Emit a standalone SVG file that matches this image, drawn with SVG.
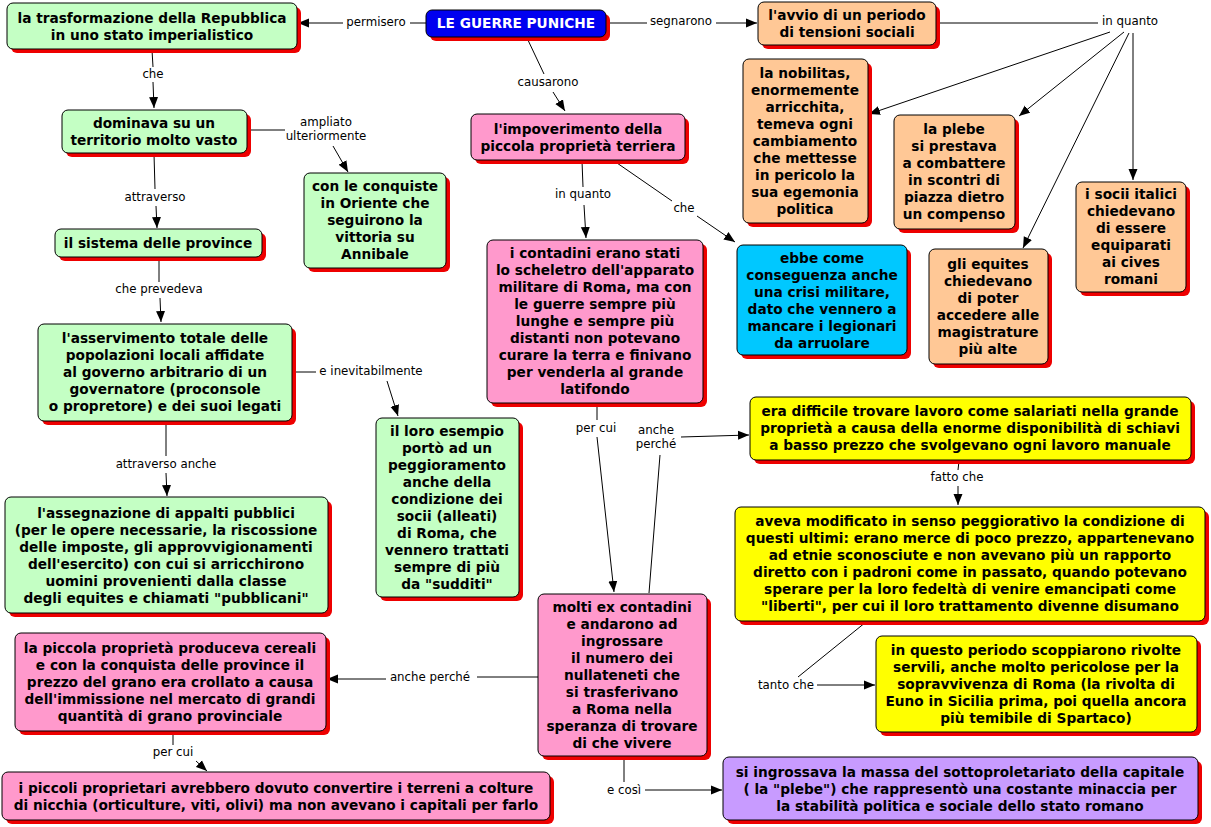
<svg xmlns="http://www.w3.org/2000/svg" width="1211" height="827" viewBox="0 0 1211 827">
<style>
.sh{fill:#ee0000}
.b{stroke:#000;stroke-width:1}
.g{fill:#c4ffc4}.p{fill:#ff99cc}.o{fill:#ffc896}.c{fill:#00c8ff}.y{fill:#ffff00}.v{fill:#c89bff}.bl{fill:#0000f0}
.t{font-family:"DejaVu Sans",Verdana,sans-serif;font-weight:bold;font-size:13.7px;text-anchor:middle;fill:#000}
.tw{fill:#fff}
.l{font-family:"DejaVu Sans",Verdana,sans-serif;font-size:11.8px;text-anchor:middle;fill:#000}
.ln{stroke:#000;stroke-width:1;fill:none}
.a{marker-end:url(#ah)}
</style>
<defs>
<marker id="ah" markerUnits="userSpaceOnUse" markerWidth="12" markerHeight="10" refX="11" refY="4.5" orient="auto" viewBox="0 0 12 9">
<path d="M0,0 L11,4.5 L0,9 z" fill="#000"/>
</marker>
</defs>
<rect width="1211" height="827" fill="#fff"/>

<g id="connectors">
<line class="ln" x1="426" y1="23" x2="410" y2="23"/><line class="ln a" x1="343" y1="23" x2="298" y2="23"/>
<line class="ln" x1="606" y1="23" x2="647" y2="23"/><line class="ln a" x1="716" y1="23" x2="757" y2="23"/>
<line class="ln" x1="527" y1="38" x2="544" y2="74"/><line class="ln a" x1="553" y1="92" x2="565" y2="111"/>
<line class="ln" x1="152" y1="50" x2="153" y2="67"/><line class="ln a" x1="153" y1="82" x2="154" y2="108"/>
<line class="ln" x1="248" y1="130" x2="285" y2="130"/><line class="ln a" x1="333" y1="146" x2="348" y2="172"/>
<line class="ln" x1="154" y1="154" x2="155" y2="189"/><line class="ln a" x1="156" y1="206" x2="157" y2="228"/>
<line class="ln" x1="159" y1="259" x2="159" y2="282"/><line class="ln a" x1="160" y1="298" x2="161" y2="322"/>
<line class="ln" x1="292" y1="372" x2="316" y2="372"/><line class="ln a" x1="387" y1="381" x2="398" y2="416"/>
<line class="ln" x1="166" y1="422" x2="166" y2="456"/><line class="ln a" x1="166" y1="473" x2="167" y2="496"/>
<line class="ln" x1="582" y1="161" x2="583" y2="187"/><line class="ln a" x1="584" y1="205" x2="586" y2="238"/>
<line class="ln" x1="617" y1="163" x2="672" y2="201"/><line class="ln a" x1="697" y1="216" x2="735" y2="242"/>
<line class="ln" x1="936" y1="23" x2="1098" y2="23"/>
<line class="ln a" x1="1110" y1="32" x2="869" y2="114"/>
<line class="ln a" x1="1124" y1="32" x2="1019" y2="116"/>
<line class="ln a" x1="1129" y1="33" x2="1023" y2="248"/>
<line class="ln a" x1="1133" y1="33" x2="1133" y2="180"/>
<line class="ln" x1="597" y1="404" x2="597" y2="420"/><line class="ln a" x1="597" y1="437" x2="614" y2="592"/>
<line class="ln" x1="649" y1="593" x2="660" y2="455"/><line class="ln a" x1="681" y1="437" x2="749" y2="435"/>
<line class="ln" x1="959" y1="461" x2="958" y2="470"/><line class="ln a" x1="958" y1="486" x2="958" y2="505"/>
<line class="ln" x1="866" y1="622" x2="798" y2="677"/><line class="ln a" x1="817" y1="685" x2="875" y2="685"/>
<line class="ln" x1="538" y1="677" x2="477" y2="677"/><line class="ln a" x1="386" y1="679" x2="327" y2="679"/>
<line class="ln" x1="173" y1="732" x2="173" y2="745"/><line class="ln a" x1="196" y1="761" x2="207" y2="771"/>
<line class="ln" x1="624" y1="757" x2="624" y2="782"/><line class="ln a" x1="645" y1="790" x2="722" y2="790"/>

<text class="l" x="376" y="26">permisero</text>
<text class="l" x="681" y="25">segnarono</text>
<text class="l" x="548" y="86">causarono</text>
<text class="l" x="153" y="78">che</text>
<text class="l" x="326" y="126">ampliato</text>
<text class="l" x="326" y="140">ulteriormente</text>
<text class="l" x="155" y="201">attraverso</text>
<text class="l" x="159" y="293">che prevedeva</text>
<text class="l" x="371" y="375">e inevitabilmente</text>
<text class="l" x="166" y="468">attraverso anche</text>
<text class="l" x="583" y="198">in quanto</text>
<text class="l" x="684" y="212">che</text>
<text class="l" x="1130" y="25">in quanto</text>
<text class="l" x="596" y="432">per cui</text>
<text class="l" x="656" y="434">anche</text>
<text class="l" x="656" y="448">perché</text>
<text class="l" x="957" y="481">fatto che</text>
<text class="l" x="786" y="689">tanto che</text>
<text class="l" x="430" y="681">anche perché</text>
<text class="l" x="173" y="756">per cui</text>
<text class="l" x="624" y="794">e così</text>
</g>

<g id="n-trasformazione"><rect class="sh" x="11" y="7" width="290" height="46" rx="6"/><rect class="b g" x="7" y="3" width="290" height="46" rx="6"/>
<text class="t" x="152" y="23">la trasformazione della Repubblica</text><text class="t" x="152" y="40">in uno stato imperialistico</text></g>

<g id="n-guerre"><rect class="sh" x="430" y="14" width="180" height="27" rx="6"/><rect class="b bl" x="426" y="10" width="180" height="27" rx="6"/>
<text class="t tw" x="516" y="28">LE GUERRE PUNICHE</text></g>

<g id="n-avvio"><rect class="sh" x="762" y="6" width="178" height="43" rx="6"/><rect class="b o" x="758" y="2" width="178" height="43" rx="6"/>
<text class="t" x="847" y="20">l'avvio di un periodo</text><text class="t" x="847" y="37">di tensioni sociali</text></g>

<g id="n-dominava"><rect class="sh" x="66" y="114" width="185" height="43" rx="6"/><rect class="b g" x="62" y="110" width="185" height="43" rx="6"/>
<text class="t" x="154" y="128">dominava su un</text><text class="t" x="154" y="145">territorio molto vasto</text></g>

<g id="n-conquiste"><rect class="sh" x="308" y="177" width="142" height="95" rx="6"/><rect class="b g" x="304" y="173" width="142" height="95" rx="6"/>
<text class="t" x="375" y="191">con le conquiste</text><text class="t" x="375" y="208">in Oriente che</text><text class="t" x="375" y="225">seguirono la</text><text class="t" x="375" y="242">vittoria su</text><text class="t" x="375" y="259">Annibale</text></g>

<g id="n-impoverimento"><rect class="sh" x="475" y="118" width="214" height="46" rx="6"/><rect class="b p" x="471" y="114" width="214" height="46" rx="6"/>
<text class="t" x="578" y="134">l'impoverimento della</text><text class="t" x="578" y="151">piccola proprietà terriera</text></g>

<g id="n-nobilitas"><rect class="sh" x="747" y="63" width="125" height="164" rx="6"/><rect class="b o" x="743" y="59" width="125" height="164" rx="6"/>
<text class="t" x="805" y="78">la nobilitas,</text><text class="t" x="805" y="95">enormemente</text><text class="t" x="805" y="112">arricchita,</text><text class="t" x="805" y="129">temeva ogni</text><text class="t" x="805" y="146">cambiamento</text><text class="t" x="805" y="163">che mettesse</text><text class="t" x="805" y="180">in pericolo la</text><text class="t" x="805" y="197">sua egemonia</text><text class="t" x="805" y="214">politica</text></g>

<g id="n-plebe"><rect class="sh" x="898" y="119" width="121" height="114" rx="6"/><rect class="b o" x="894" y="115" width="121" height="114" rx="6"/>
<text class="t" x="954" y="134">la plebe</text><text class="t" x="954" y="151">si prestava</text><text class="t" x="954" y="168">a combattere</text><text class="t" x="954" y="185">in scontri di</text><text class="t" x="954" y="202">piazza dietro</text><text class="t" x="954" y="219">un compenso</text></g>

<g id="n-socii"><rect class="sh" x="1080" y="186" width="110" height="110" rx="6"/><rect class="b o" x="1076" y="182" width="110" height="110" rx="6"/>
<text class="t" x="1131" y="199">i socii italici</text><text class="t" x="1131" y="216">chiedevano</text><text class="t" x="1131" y="233">di essere</text><text class="t" x="1131" y="250">equiparati</text><text class="t" x="1131" y="267">ai cives</text><text class="t" x="1131" y="284">romani</text></g>

<g id="n-sistema"><rect class="sh" x="59" y="233" width="207" height="28" rx="6"/><rect class="b g" x="55" y="229" width="207" height="28" rx="6"/>
<text class="t" x="158" y="248">il sistema delle province</text></g>

<g id="n-contadini"><rect class="sh" x="491" y="244" width="216" height="163" rx="6"/><rect class="b p" x="487" y="240" width="216" height="163" rx="6"/>
<text class="t" x="595" y="258">i contadini erano stati</text><text class="t" x="595" y="275">lo scheletro dell'apparato</text><text class="t" x="595" y="292">militare di Roma, ma con</text><text class="t" x="595" y="309">le guerre sempre più</text><text class="t" x="595" y="326">lunghe e sempre più</text><text class="t" x="595" y="343">distanti non potevano</text><text class="t" x="595" y="360">curare la terra e finivano</text><text class="t" x="595" y="377">per venderla al grande</text><text class="t" x="595" y="394">latifondo</text></g>

<g id="n-ebbe"><rect class="sh" x="741" y="249" width="170" height="110" rx="6"/><rect class="b c" x="737" y="245" width="170" height="110" rx="6"/>
<text class="t" x="822" y="263">ebbe come</text><text class="t" x="822" y="280">conseguenza anche</text><text class="t" x="822" y="297">una crisi militare,</text><text class="t" x="822" y="314">dato che vennero a</text><text class="t" x="822" y="331">mancare i legionari</text><text class="t" x="822" y="348">da arruolare</text></g>

<g id="n-equites"><rect class="sh" x="933" y="253" width="119" height="115" rx="6"/><rect class="b o" x="929" y="249" width="119" height="115" rx="6"/>
<text class="t" x="988" y="269">gli equites</text><text class="t" x="988" y="286">chiedevano</text><text class="t" x="988" y="303">di poter</text><text class="t" x="988" y="320">accedere alle</text><text class="t" x="988" y="337">magistrature</text><text class="t" x="988" y="354">più alte</text></g>

<g id="n-asservimento"><rect class="sh" x="42" y="328" width="254" height="97" rx="6"/><rect class="b g" x="38" y="324" width="254" height="97" rx="6"/>
<text class="t" x="165" y="343">l'asservimento totale delle</text><text class="t" x="165" y="360">popolazioni locali affidate</text><text class="t" x="165" y="377">al governo arbitrario di un</text><text class="t" x="165" y="394">governatore (proconsole</text><text class="t" x="165" y="411">o propretore) e dei suoi legati</text></g>

<g id="n-esempio"><rect class="sh" x="380" y="422" width="143" height="179" rx="6"/><rect class="b g" x="376" y="418" width="143" height="179" rx="6"/>
<text class="t" x="447" y="436">il loro esempio</text><text class="t" x="447" y="453">portò ad un</text><text class="t" x="447" y="470">peggioramento</text><text class="t" x="447" y="487">anche della</text><text class="t" x="447" y="504">condizione dei</text><text class="t" x="447" y="521">socii (alleati)</text><text class="t" x="447" y="538">di Roma, che</text><text class="t" x="447" y="555">vennero trattati</text><text class="t" x="447" y="572">sempre di più</text><text class="t" x="447" y="589">da "sudditi"</text></g>

<g id="n-difficile"><rect class="sh" x="754" y="401" width="441" height="63" rx="6"/><rect class="b y" x="750" y="397" width="441" height="63" rx="6"/>
<text class="t" x="970" y="416">era difficile trovare lavoro come salariati nella grande</text><text class="t" x="970" y="433">proprietà a causa della enorme disponibilità di schiavi</text><text class="t" x="970" y="450">a basso prezzo che svolgevano ogni lavoro manuale</text></g>

<g id="n-assegnazione"><rect class="sh" x="9" y="501" width="323" height="116" rx="6"/><rect class="b g" x="5" y="497" width="323" height="116" rx="6"/>
<text class="t" x="166" y="518">l'assegnazione di appalti pubblici</text><text class="t" x="166" y="535">(per le opere necessarie, la riscossione</text><text class="t" x="166" y="552">delle imposte, gli approvvigionamenti</text><text class="t" x="166" y="569">dell'esercito) con cui si arricchirono</text><text class="t" x="166" y="586">uomini provenienti dalla classe</text><text class="t" x="166" y="603">degli equites e chiamati "pubblicani"</text></g>

<g id="n-aveva"><rect class="sh" x="739" y="511" width="470" height="114" rx="6"/><rect class="b y" x="735" y="507" width="470" height="114" rx="6"/>
<text class="t" x="970" y="526">aveva modificato in senso peggiorativo la condizione di</text><text class="t" x="970" y="543">questi ultimi: erano merce di poco prezzo, appartenevano</text><text class="t" x="970" y="560">ad etnie sconosciute e non avevano più un rapporto</text><text class="t" x="970" y="577">diretto con i padroni come in passato, quando potevano</text><text class="t" x="970" y="594">sperare per la loro fedeltà di venire emancipati come</text><text class="t" x="970" y="611">"liberti", per cui il loro trattamento divenne disumano</text></g>

<g id="n-molti"><rect class="sh" x="542" y="598" width="169" height="162" rx="6"/><rect class="b p" x="538" y="594" width="169" height="162" rx="6"/>
<text class="t" x="622" y="612">molti ex contadini</text><text class="t" x="622" y="629">e andarono ad</text><text class="t" x="622" y="646">ingrossare</text><text class="t" x="622" y="663">il numero dei</text><text class="t" x="622" y="680">nullateneti che</text><text class="t" x="622" y="697">si trasferivano</text><text class="t" x="622" y="714">a Roma nella</text><text class="t" x="622" y="731">speranza di trovare</text><text class="t" x="622" y="748">di che vivere</text></g>

<g id="n-cereali"><rect class="sh" x="19" y="637" width="311" height="98" rx="6"/><rect class="b p" x="15" y="633" width="311" height="98" rx="6"/>
<text class="t" x="170" y="653">la piccola proprietà produceva cereali</text><text class="t" x="170" y="670">e con la conquista delle province il</text><text class="t" x="170" y="687">prezzo del grano era crollato a causa</text><text class="t" x="170" y="704">dell'immissione nel mercato di grandi</text><text class="t" x="170" y="721">quantità di grano provinciale</text></g>

<g id="n-rivolte"><rect class="sh" x="880" y="640" width="321" height="96" rx="6"/><rect class="b y" x="876" y="636" width="321" height="96" rx="6"/>
<text class="t" x="1036" y="655">in questo periodo scoppiarono rivolte</text><text class="t" x="1036" y="672">servili, anche molto pericolose per la</text><text class="t" x="1036" y="689">sopravvivenza di Roma (la rivolta di</text><text class="t" x="1036" y="706">Euno in Sicilia prima, poi quella ancora</text><text class="t" x="1036" y="723">più temibile di Spartaco)</text></g>

<g id="n-proprietari"><rect class="sh" x="6" y="776" width="548" height="48" rx="6"/><rect class="b p" x="2" y="772" width="548" height="48" rx="6"/>
<text class="t" x="276" y="793">i piccoli proprietari avrebbero dovuto convertire i terreni a colture</text><text class="t" x="276" y="810">di nicchia (orticulture, viti, olivi) ma non avevano i capitali per farlo</text></g>

<g id="n-plebe-capitale"><rect class="sh" x="727" y="761" width="475" height="63" rx="6"/><rect class="b v" x="723" y="757" width="475" height="63" rx="6"/>
<text class="t" x="960" y="777">si ingrossava la massa del sottoproletariato della capitale</text><text class="t" x="960" y="794">( la "plebe") che rappresentò una costante minaccia per</text><text class="t" x="960" y="811">la stabilità politica e sociale dello stato romano</text></g>
</svg>
